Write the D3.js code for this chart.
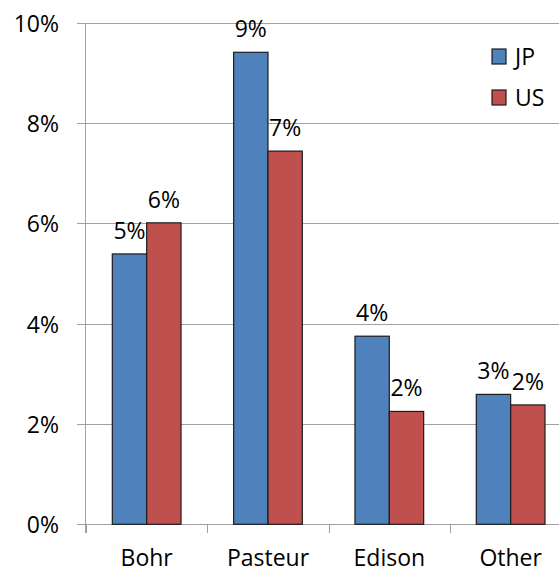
<!DOCTYPE html>
<html><head><meta charset="utf-8">
<script src="https://cdn.jsdelivr.net/npm/d3@7"></script>
<style>html,body{margin:0;padding:0;background:#fff;overflow:hidden}svg{display:block}text{font-family:"Open Sans",sans-serif;fill:#000}</style>
</head><body><div id="chart"></div>
<script>
const categories = ["Bohr", "Pasteur", "Edison", "Other"];
const seriesNames = ["JP", "US"];
const jpValues = [5.39, 9.41, 3.75, 2.59];
const usValues = [6.01, 7.44, 2.25, 2.38];
const yTicks = [0, 2, 4, 6, 8, 10];
const colors = ["#4F81BD", "#C0504D"];

const W = 559, H = 572;
const svg = d3.select("#chart").append("svg").attr("width", W).attr("height", H);
const plotLeft = 86, plotRight = 571.3, plotTop = 22.7, plotBottom = 524.3;

const x0 = d3.scaleBand().domain(categories).range([plotLeft, plotRight]).paddingInner(0).paddingOuter(0);
const groupW = 68.7;
const x1 = d3.scaleBand().domain(seriesNames).range([0, groupW]).padding(0);
const y = d3.scaleLinear().domain([0, 10]).range([plotBottom, plotTop]);

const fs = 23;
// gridlines
svg.append("g").selectAll("line").data(yTicks).join("line")
  .attr("x1", plotLeft).attr("x2", plotRight).attr("y1", d => Math.round(y(d)) + 0.5).attr("y2", d => Math.round(y(d)) + 0.5)
  .attr("stroke", "#a0a0a0");
// y axis
const gAxisY = svg.append("g").attr("transform", `translate(${plotLeft},0)`)
  .call(d3.axisLeft(y).tickValues(yTicks).tickSize(9).tickFormat(d => d + "%"));
gAxisY.select(".domain").remove();
gAxisY.selectAll(".tick").attr("transform", d => `translate(0,${Math.round(y(d)) + 0.5})`);
gAxisY.selectAll(".tick line").attr("stroke", "#a0a0a0");
gAxisY.selectAll(".tick text").attr("x", -27).attr("font-size", fs).attr("font-family", "Open Sans").attr("fill", "#000").attr("dy", "0.35em");

// x axis
const gAxisX = svg.append("g").attr("transform", `translate(0,${Math.round(plotBottom) + 0.5})`)
  .call(d3.axisBottom(x0).tickSize(0).tickPadding(25));
gAxisX.select(".domain").remove();
gAxisX.selectAll(".tick text").attr("font-size", fs).attr("font-family", "Open Sans").attr("fill", "#000").attr("dy", "0.7em");
const boundaries = categories.map(c => x0(c)).concat([plotRight]);
svg.append("g").selectAll("line").data(boundaries).join("line")
  .attr("x1", d => Math.round(d) + 0.5).attr("x2", d => Math.round(d) + 0.5)
  .attr("y1", Math.round(plotBottom)).attr("y2", Math.round(plotBottom) + 9).attr("stroke", "#a0a0a0");
// y axis line
svg.append("line").attr("x1", plotLeft - 0.5).attr("x2", plotLeft - 0.5).attr("y1", Math.round(plotTop)).attr("y2", Math.round(plotBottom) + 9)
  .attr("stroke", "#a0a0a0");

// bars
const data = categories.map((c, i) => ({cat: c, vals: [jpValues[i], usValues[i]]}));
const offset = (x0.bandwidth() - groupW) / 2;
const groups = svg.append("g").selectAll("g").data(data).join("g")
  .attr("transform", d => `translate(${x0(d.cat) + offset},0)`);
groups.selectAll("rect").data(d => d.vals.map((v, j) => ({s: seriesNames[j], v, j}))).join("rect")
  .attr("x", d => x1(d.s)).attr("width", x1.bandwidth())
  .attr("y", d => y(d.v)).attr("height", d => y(0) - y(d.v))
  .attr("fill", d => colors[d.j]).attr("stroke", "#1c1c1c").attr("stroke-width", 1.2);
groups.selectAll("text").data(d => d.vals.map((v, j) => ({s: seriesNames[j], v, j}))).join("text")
  .attr("x", d => x1(d.s) + x1.bandwidth() / 2).attr("y", d => y(d.v) - 15)
  .attr("text-anchor", "middle").attr("font-size", fs)
  .text(d => Math.round(d.v) + "%");

// legend
const leg = svg.append("g").selectAll("g").data(seriesNames).join("g")
  .attr("transform", (d, i) => `translate(492,${49 + i * 41})`);
leg.append("rect").attr("width", 14).attr("height", 15).attr("fill", (d, i) => colors[i]).attr("stroke", "#1c1c1c").attr("stroke-width", 1.2);
leg.append("text").attr("x", 23).attr("y", 7.5).attr("dy", "0.35em").attr("font-size", fs).text(d => d);
</script></body></html>
